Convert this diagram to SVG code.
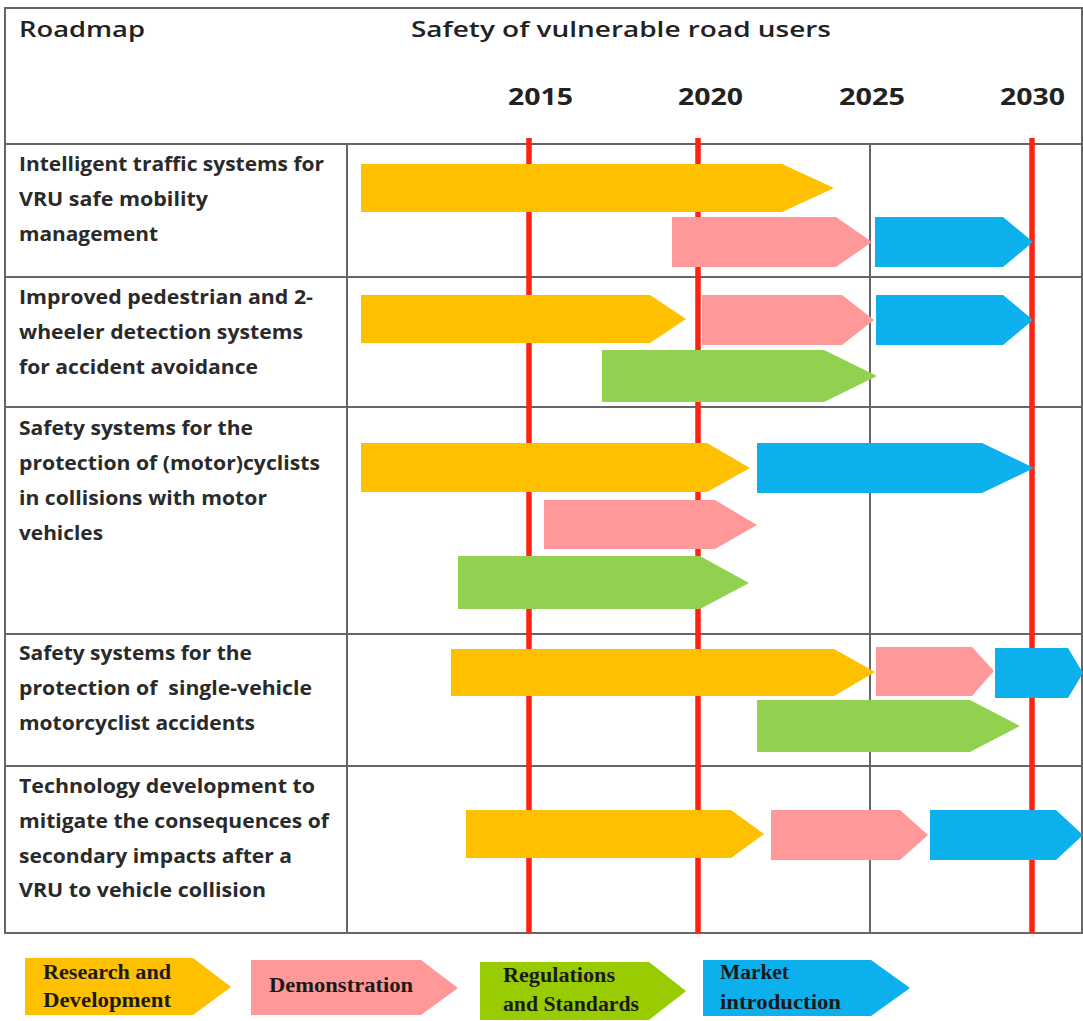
<svg xmlns="http://www.w3.org/2000/svg" width="1083" height="1021" viewBox="0 0 1083 1021">
<style>
.bg{fill:#ffffff}
.grid{stroke:#666666;stroke-width:2;fill:none}
.red{stroke:#ff2211;stroke-width:5.5}
.rd{fill:#ffc000}
.demo{fill:#ff9999}
.reg{fill:#92d050}
.reg2{fill:#99cc00}
.mkt{fill:#0bb0ec}
.title{font-family:"Open Sans","Liberation Sans",sans-serif;font-weight:600;font-size:22px;fill:#222}
.year{font-family:"Open Sans","Liberation Sans",sans-serif;font-weight:700;font-size:24px;fill:#222}
.lbl{font-family:"Open Sans","Liberation Sans",sans-serif;font-weight:700;font-size:19px;fill:#2a2a2a}
.leg{font-family:"Liberation Serif","DejaVu Serif",serif;font-weight:700;font-size:20px;fill:#1a1a1a}
.pre{white-space:pre}
</style>
<rect class="bg" x="0" y="0" width="1083" height="1021"/>

<g id="grid">
  <rect class="grid" x="5" y="8" width="1077" height="925"/>
  <line class="grid" x1="5" y1="144" x2="1082" y2="144"/>
  <line class="grid" x1="5" y1="277" x2="1082" y2="277"/>
  <line class="grid" x1="5" y1="407" x2="1082" y2="407"/>
  <line class="grid" x1="5" y1="634" x2="1082" y2="634"/>
  <line class="grid" x1="5" y1="766" x2="1082" y2="766"/>
  <line class="grid" x1="347" y1="144" x2="347" y2="933"/>
  <line class="grid" x1="870" y1="144" x2="870" y2="933"/>
</g>

<g id="connectors">
  <line class="red" x1="529" y1="138" x2="529" y2="933"/>
  <line class="red" x1="698" y1="138" x2="698" y2="933"/>
  <line class="red" x1="1032" y1="138" x2="1032" y2="933"/>
</g>

<g id="header">
  <text class="title" x="19" y="37" textLength="126" lengthAdjust="spacingAndGlyphs">Roadmap</text>
  <text class="title" x="411" y="37" textLength="420" lengthAdjust="spacingAndGlyphs">Safety of vulnerable road users</text>
  <text class="year" x="508" y="105" textLength="65" lengthAdjust="spacingAndGlyphs">2015</text>
  <text class="year" x="678" y="105" textLength="65" lengthAdjust="spacingAndGlyphs">2020</text>
  <text class="year" x="839" y="105" textLength="66" lengthAdjust="spacingAndGlyphs">2025</text>
  <text class="year" x="1000" y="105" textLength="65" lengthAdjust="spacingAndGlyphs">2030</text>
</g>

<g id="row1">
  <text class="lbl" x="19" y="171" textLength="305" lengthAdjust="spacingAndGlyphs">Intelligent traffic systems for</text>
  <text class="lbl" x="19" y="206" textLength="189" lengthAdjust="spacingAndGlyphs">VRU safe mobility</text>
  <text class="lbl" x="19" y="241" textLength="139" lengthAdjust="spacingAndGlyphs">management</text>
  <polygon class="rd" points="361,164 782,164 834,188 782,212 361,212"/>
  <polygon class="demo" points="672,217 836,217 872,242 836,267 672,267"/>
  <polygon class="mkt" points="875,217 1003,217 1033,242 1003,267 875,267"/>
</g>

<g id="row2">
  <text class="lbl" x="19" y="304" textLength="294" lengthAdjust="spacingAndGlyphs">Improved pedestrian and 2-</text>
  <text class="lbl" x="19" y="339" textLength="284" lengthAdjust="spacingAndGlyphs">wheeler detection systems</text>
  <text class="lbl" x="19" y="374" textLength="239" lengthAdjust="spacingAndGlyphs">for accident avoidance</text>
  <polygon class="rd" points="361,295 650,295 686,319 650,343 361,343"/>
  <polygon class="demo" points="702,295 842,295 874,320 842,345 702,345"/>
  <polygon class="mkt" points="876,295 1003,295 1033,320 1003,345 876,345"/>
  <polygon class="reg" points="602,350 824,350 877,376 824,402 602,402"/>
</g>

<g id="row3">
  <text class="lbl" x="19" y="435" textLength="234" lengthAdjust="spacingAndGlyphs">Safety systems for the</text>
  <text class="lbl" x="19" y="470" textLength="301" lengthAdjust="spacingAndGlyphs">protection of (motor)cyclists</text>
  <text class="lbl" x="19" y="505" textLength="248" lengthAdjust="spacingAndGlyphs">in collisions with motor</text>
  <text class="lbl" x="19" y="540" textLength="84" lengthAdjust="spacingAndGlyphs">vehicles</text>
  <polygon class="rd" points="361,443 707,443 750,468 707,492 361,492"/>
  <polygon class="mkt" points="757,443 982,443 1034,468 982,493 757,493"/>
  <polygon class="demo" points="544,500 715,500 757,525 715,549 544,549"/>
  <polygon class="reg" points="458,556 700,556 749,583 700,609 458,609"/>
</g>

<g id="row4">
  <text class="lbl" x="19" y="660" textLength="233" lengthAdjust="spacingAndGlyphs">Safety systems for the</text>
  <text class="lbl pre" x="19" y="695" textLength="293" lengthAdjust="spacingAndGlyphs">protection of  single-vehicle</text>
  <text class="lbl" x="19" y="730" textLength="236" lengthAdjust="spacingAndGlyphs">motorcyclist accidents</text>
  <polygon class="rd" points="451,649 834,649 875,672 834,696 451,696"/>
  <polygon class="demo" points="876,647 972,647 994,671 972,696 876,696"/>
  <polygon class="mkt" points="995,648 1068,648 1083,673 1068,698 995,698"/>
  <polygon class="reg" points="757,700 970,700 1020,726 970,752 757,752"/>
</g>

<g id="row5">
  <text class="lbl" x="19" y="793" textLength="296" lengthAdjust="spacingAndGlyphs">Technology development to</text>
  <text class="lbl" x="19" y="828" textLength="310" lengthAdjust="spacingAndGlyphs">mitigate the consequences of</text>
  <text class="lbl" x="19" y="863" textLength="273" lengthAdjust="spacingAndGlyphs">secondary impacts after a</text>
  <text class="lbl" x="19" y="897" textLength="247" lengthAdjust="spacingAndGlyphs">VRU to vehicle collision</text>
  <polygon class="rd" points="466,810 731,810 764,834 731,858 466,858"/>
  <polygon class="demo" points="771,810 900,810 928,835 900,860 771,860"/>
  <polygon class="mkt" points="930,810 1056,810 1083,835 1056,860 930,860"/>
</g>

<g id="legend-rd">
  <polygon class="rd" points="25,958 193,958 231,987 193,1015 25,1015"/>
  <text class="leg" x="43" y="979" textLength="128" lengthAdjust="spacingAndGlyphs">Research and</text>
  <text class="leg" x="43" y="1007" textLength="128" lengthAdjust="spacingAndGlyphs">Development</text>
</g>
<g id="legend-demo">
  <polygon class="demo" points="251,960 421,960 458,988 421,1015 251,1015"/>
  <text class="leg" x="269" y="992" textLength="144" lengthAdjust="spacingAndGlyphs">Demonstration</text>
</g>
<g id="legend-reg">
  <polygon class="reg2" points="480,962 649,962 686,991 649,1020 480,1020"/>
  <text class="leg" x="503" y="982" textLength="112" lengthAdjust="spacingAndGlyphs">Regulations</text>
  <text class="leg" x="503" y="1011" textLength="136" lengthAdjust="spacingAndGlyphs">and Standards</text>
</g>
<g id="legend-mkt">
  <polygon class="mkt" points="703,960 871,960 910,988 871,1016 703,1016"/>
  <text class="leg" x="720" y="979" textLength="69" lengthAdjust="spacingAndGlyphs">Market</text>
  <text class="leg" x="720" y="1009" textLength="121" lengthAdjust="spacingAndGlyphs">introduction</text>
</g>
</svg>
